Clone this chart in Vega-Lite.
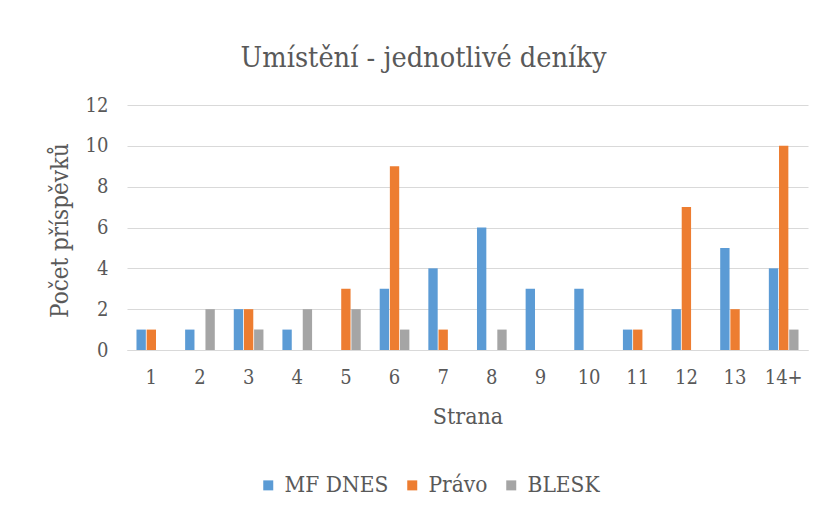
{
  "$schema": "https://vega.github.io/schema/vega-lite/v6.json",
  "autosize": "none",
  "width": 681,
  "height": 245,
  "padding": {"left": 127, "top": 105, "right": 20, "bottom": 163},
  "background": "white",
  "title": {
    "text": "Umístění - jednotlivé deníky",
    "font": "DejaVu Serif Condensed",
    "fontSize": 28.6,
    "fontWeight": "normal",
    "color": "#595959",
    "anchor": "middle",
    "dx": -44,
    "offset": 22
  },
  "data": {
    "values": [
      {"strana": "1", "denik": "MF DNES", "pocet": 1},
      {"strana": "1", "denik": "Právo", "pocet": 1},
      {"strana": "1", "denik": "BLESK", "pocet": 0},
      {"strana": "2", "denik": "MF DNES", "pocet": 1},
      {"strana": "2", "denik": "Právo", "pocet": 0},
      {"strana": "2", "denik": "BLESK", "pocet": 2},
      {"strana": "3", "denik": "MF DNES", "pocet": 2},
      {"strana": "3", "denik": "Právo", "pocet": 2},
      {"strana": "3", "denik": "BLESK", "pocet": 1},
      {"strana": "4", "denik": "MF DNES", "pocet": 1},
      {"strana": "4", "denik": "Právo", "pocet": 0},
      {"strana": "4", "denik": "BLESK", "pocet": 2},
      {"strana": "5", "denik": "MF DNES", "pocet": 0},
      {"strana": "5", "denik": "Právo", "pocet": 3},
      {"strana": "5", "denik": "BLESK", "pocet": 2},
      {"strana": "6", "denik": "MF DNES", "pocet": 3},
      {"strana": "6", "denik": "Právo", "pocet": 9},
      {"strana": "6", "denik": "BLESK", "pocet": 1},
      {"strana": "7", "denik": "MF DNES", "pocet": 4},
      {"strana": "7", "denik": "Právo", "pocet": 1},
      {"strana": "7", "denik": "BLESK", "pocet": 0},
      {"strana": "8", "denik": "MF DNES", "pocet": 6},
      {"strana": "8", "denik": "Právo", "pocet": 0},
      {"strana": "8", "denik": "BLESK", "pocet": 1},
      {"strana": "9", "denik": "MF DNES", "pocet": 3},
      {"strana": "9", "denik": "Právo", "pocet": 0},
      {"strana": "9", "denik": "BLESK", "pocet": 0},
      {"strana": "10", "denik": "MF DNES", "pocet": 3},
      {"strana": "10", "denik": "Právo", "pocet": 0},
      {"strana": "10", "denik": "BLESK", "pocet": 0},
      {"strana": "11", "denik": "MF DNES", "pocet": 1},
      {"strana": "11", "denik": "Právo", "pocet": 1},
      {"strana": "11", "denik": "BLESK", "pocet": 0},
      {"strana": "12", "denik": "MF DNES", "pocet": 2},
      {"strana": "12", "denik": "Právo", "pocet": 7},
      {"strana": "12", "denik": "BLESK", "pocet": 0},
      {"strana": "13", "denik": "MF DNES", "pocet": 5},
      {"strana": "13", "denik": "Právo", "pocet": 2},
      {"strana": "13", "denik": "BLESK", "pocet": 0},
      {"strana": "14+", "denik": "MF DNES", "pocet": 4},
      {"strana": "14+", "denik": "Právo", "pocet": 10},
      {"strana": "14+", "denik": "BLESK", "pocet": 1}
    ]
  },
  "mark": {"type": "bar"},
  "encoding": {
    "x": {
      "field": "strana",
      "type": "ordinal",
      "sort": ["1","2","3","4","5","6","7","8","9","10","11","12","13","14+"],
      "scale": {"paddingInner": 0.39, "paddingOuter": 0.195},
      "axis": {
        "title": "Strana",
        "titleFont": "DejaVu Serif Condensed",
        "titleFontSize": 23,
        "titleFontWeight": "normal",
        "titleColor": "#595959",
        "titleY": 66,
        "titleBaseline": "middle",
        "labelFont": "DejaVu Serif Condensed",
        "labelFontSize": 20,
        "labelColor": "#595959",
        "labelAngle": 0,
        "labelPadding": 17,
        "domain": true,
        "domainColor": "#D9D9D9",
        "ticks": false,
        "grid": false
      }
    },
    "xOffset": {
      "field": "denik",
      "type": "nominal",
      "sort": ["MF DNES", "Právo", "BLESK"],
      "scale": {"paddingInner": 0.08}
    },
    "y": {
      "field": "pocet",
      "type": "quantitative",
      "scale": {"domain": [0, 12]},
      "axis": {
        "title": "Počet příspěvků",
        "titleFont": "DejaVu Serif Condensed",
        "titleFontSize": 24,
        "titleFontWeight": "normal",
        "titleColor": "#595959",
        "titleX": -67,
        "titleY": 125,
        "titleAngle": -90,
        "titleAlign": "center",
        "titleBaseline": "middle",
        "values": [0, 2, 4, 6, 8, 10, 12],
        "labelFont": "DejaVu Serif Condensed",
        "labelFontSize": 20,
        "labelColor": "#595959",
        "labelPadding": 19,
        "domain": false,
        "ticks": false,
        "grid": true,
        "gridColor": "#D9D9D9",
        "gridWidth": 1
      }
    },
    "color": {
      "field": "denik",
      "type": "nominal",
      "sort": ["MF DNES", "Právo", "BLESK"],
      "scale": {"domain": ["MF DNES", "Právo", "BLESK"], "range": ["#5B9BD5", "#ED7D31", "#A5A5A5"]},
      "legend": {
        "title": null,
        "orient": "none",
        "direction": "horizontal",
        "legendX": 130,
        "legendY": 369,
        "symbolType": "square",
        "symbolSize": 100,
        "symbolStrokeWidth": 0,
        "labelFont": "DejaVu Serif Condensed",
        "labelFontSize": 22.5,
        "labelColor": "#595959",
        "labelOffset": 5,
        "columnPadding": 12
      }
    }
  },
  "config": {
    "view": {"stroke": null}
  }
}
